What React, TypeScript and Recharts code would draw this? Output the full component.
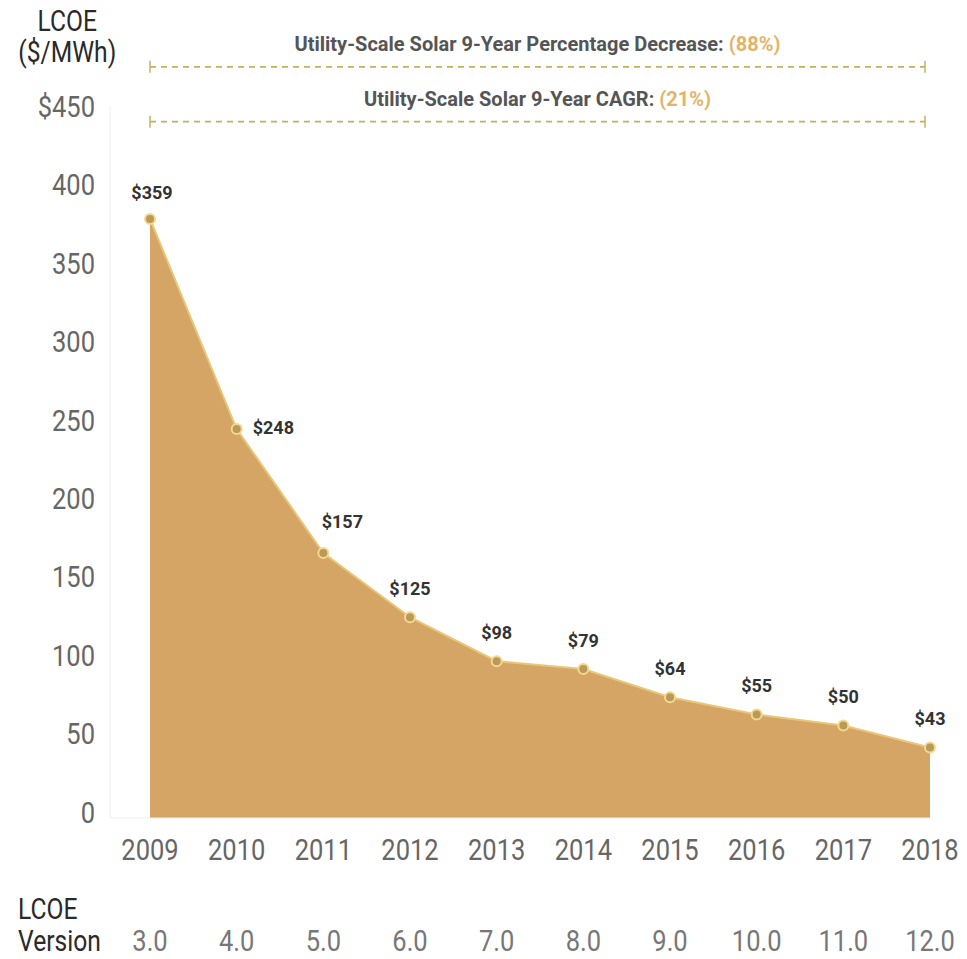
import React from "react";
import {
  AreaChart,
  Area,
  XAxis,
  YAxis,
  LabelList,
  ReferenceLine,
} from "recharts";

const years = ["2009", "2010", "2011", "2012", "2013", "2014", "2015", "2016", "2017", "2018"];
const versions = ["3.0", "4.0", "5.0", "6.0", "7.0", "8.0", "9.0", "10.0", "11.0", "12.0"];
// heights as drawn in the picture
const plotted = [378, 244, 165, 124, 96, 91, 73, 62, 55, 41];
// values printed next to the points
const printed = [359, 248, 157, 125, 98, 79, 64, 55, 50, 43];
const yTicks = [0, 50, 100, 150, 200, 250, 300, 350, 400, 450];
const notes = [
  { text: "Utility-Scale Solar 9-Year Percentage Decrease: ", pct: "(88%)", level: 475 },
  { text: "Utility-Scale Solar 9-Year CAGR: ", pct: "(21%)", level: 440 },
];

const data = years.map((year, i) => ({ year, value: plotted[i], label: printed[i] }));

const FONT = "Roboto, 'Noto Sans', sans-serif";
const GOLD = "#d4a564";
const SQUEEZE = 0.85;

// per-point label nudges (dx, dy, anchor)
const labelNudge: Record<number, [number, number, string]> = {
  0: [2, -20, "middle"],
  1: [16, 5, "start"],
  2: [19, -25, "middle"],
};

function Narrow({ x, y, anchor, fill, size, children }: any) {
  return (
    <text
      transform={`translate(${x},${y}) scale(${SQUEEZE},1)`}
      textAnchor={anchor}
      fill={fill}
      fontFamily={FONT}
      fontSize={size}
    >
      {children}
    </text>
  );
}

function PointLabel(props: any) {
  const { x, y, value, index } = props;
  const [dx, dy, anchor] = labelNudge[index] ?? [0, -22, "middle"];
  return (
    <text
      x={x + dx}
      y={y + dy}
      textAnchor={anchor}
      fill="#333"
      fontFamily={FONT}
      fontWeight={700}
      fontSize={18}
    >
      ${value}
    </text>
  );
}

function YearTick(props: any) {
  const { x, y, payload, index } = props;
  return (
    <g>
      <Narrow x={x} y={y + 42} anchor="middle" fill="#666" size={30}>
        {payload.value}
      </Narrow>
      <Narrow x={x} y={y + 133} anchor="middle" fill="#777" size={30}>
        {versions[index]}
      </Narrow>
    </g>
  );
}

function ValueTick(props: any) {
  const { x, y, payload } = props;
  const v = payload.value;
  return (
    <Narrow x={x} y={y + 11} anchor="end" fill="#666" size={30}>
      {v === 450 ? "$450" : String(v)}
    </Narrow>
  );
}

function noteShape(note: { text: string; pct: string }) {
  return (p: any) => {
    const { x1, y1, x2 } = p;
    const end = x2 - 5;
    return (
      <g>
        <line x1={x1} y1={y1} x2={end} y2={y1} stroke="#c4b060" strokeWidth={1.8} strokeDasharray="6 5" />
        <line x1={x1} y1={y1 - 6} x2={x1} y2={y1 + 6} stroke="#c4b060" strokeWidth={1.5} />
        <line x1={end} y1={y1 - 6} x2={end} y2={y1 + 6} stroke="#c4b060" strokeWidth={1.5} />
        <text
          x={(x1 + end) / 2}
          y={y1 - 16}
          textAnchor="middle"
          fontFamily={FONT}
          fontSize={20}
          fontWeight={700}
          fill="#555"
        >
          {note.text}
          <tspan fill="#e3b468">{note.pct}</tspan>
        </text>
      </g>
    );
  };
}

const headStyle: React.CSSProperties = {
  position: "absolute",
  fontFamily: FONT,
  fontSize: 29,
  fontWeight: 400,
  lineHeight: "31px",
  color: "#2a2a2a",
  transform: `scaleX(${SQUEEZE})`,
  transformOrigin: "left top",
  whiteSpace: "nowrap",
};

export default function App() {
  return (
    <div style={{ position: "absolute", left: 0, top: 0, width: 967, height: 959, background: "#fff" }}>
      <div style={{ ...headStyle, left: 12, top: 6, width: 130, textAlign: "center" }}>
        LCOE
        <br />
        ($/MWh)
      </div>
      <div style={{ ...headStyle, left: 18, top: 893, lineHeight: "32px" }}>
        LCOE
        <br />
        Version
      </div>
      <AreaChart
        width={967}
        height={959}
        data={data}
        margin={{ top: 106, right: 37, left: 0, bottom: 0 }}
      >
        <XAxis
          dataKey="year"
          height={141}
          padding={{ left: 40, right: 0 }}
          tickLine={false}
          tickSize={0}
          tickMargin={0}
          axisLine={{ stroke: "#eee" }}
          tick={<YearTick />}
          interval={0}
        />
        <YAxis
          width={110}
          domain={[-4, 450]}
          ticks={yTicks}
          tickLine={false}
          tickMargin={9}
          axisLine={{ stroke: "#eee" }}
          tick={<ValueTick />}
        />
        {notes.map((n) => (
          <ReferenceLine
            key={n.text}
            segment={[
              { x: years[0], y: n.level },
              { x: years[years.length - 1], y: n.level },
            ]}
            ifOverflow="visible"
            shape={noteShape(n)}
          />
        ))}
        <Area
          type="linear"
          dataKey="value"
          baseValue="dataMin"
          stroke="#e9c67a"
          strokeWidth={2}
          fill={GOLD}
          fillOpacity={1}
          dot={{ r: 5, fill: "#b99a5a", stroke: "#f5d78e", strokeWidth: 2 }}
          activeDot={false}
          isAnimationActive={false}
        >
          <LabelList dataKey="label" content={<PointLabel />} />
        </Area>
      </AreaChart>
    </div>
  );
}
